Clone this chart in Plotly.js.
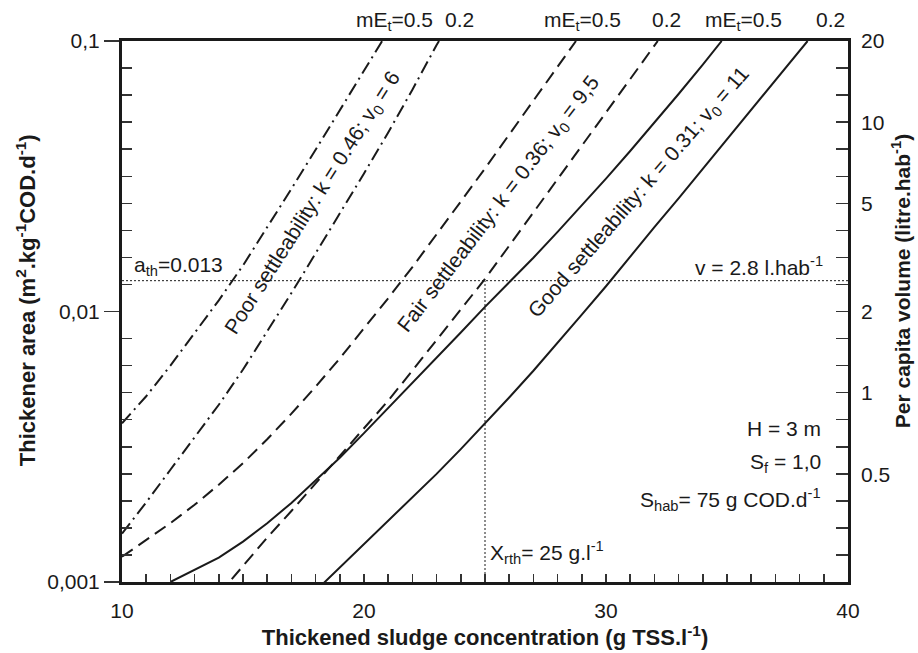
<!DOCTYPE html>
<html><head><meta charset="utf-8">
<script src="https://cdn.plot.ly/plotly-3.0.1.min.js"></script>
<style>html,body{margin:0;padding:0;background:#fff}#chart{width:918px;height:653px}</style>
</head><body><div id="chart"></div>
<script>
// ---- data ----
// Thickened sludge concentration (g TSS/l) and thickener area (m2.kg-1 COD.d-1)
const poor05X = [10,11,12,13,14,15,16,17,18,19,20,20.75];
const poor05A = [0.00386,0.00486,0.00631,0.00832,0.0110,0.0148,0.0204,0.0284,0.0396,0.0555,0.0776,0.1];
const poor02X = [10,11,12,13,14,15,16,17,18,19,20,21,22,23,23.1];
const poor02A = [0.00151,0.00197,0.00260,0.00342,0.00452,0.00610,0.00841,0.0117,0.0164,0.0230,0.0324,0.0459,0.0661,0.0966,0.1];
const fair05X = [10,11,12,13,14,15,16,17,18,19,20,21,22,23,24,25,26,27,28,28.76];
const fair05A = [0.00124,0.00143,0.00165,0.00193,0.00229,0.00275,0.00337,0.00419,0.00527,0.00671,0.00863,0.0112,0.0146,0.0192,0.0255,0.0338,0.0450,0.0600,0.0802,0.1];
const fair02X = [14,15,16,17,18,19,20,21,22,23,24,25,26,27,28,29,30,31,32,32.14];
const fair02A = [0.00090,0.00115,0.00146,0.00183,0.00231,0.00292,0.00368,0.00468,0.00605,0.00785,0.0102,0.0132,0.0175,0.0232,0.0309,0.0410,0.0545,0.0723,0.0962,0.1];
const good05X = [12,13,14,15,16,17,18,19,20,21,22,23,24,25,26,27,28,29,30,31,32,33,34,34.78];
const good05A = [0.00100,0.00111,0.00123,0.00141,0.00165,0.00196,0.00237,0.00288,0.00355,0.00439,0.00543,0.00673,0.00836,0.0104,0.0128,0.0158,0.0197,0.0247,0.0310,0.0392,0.0498,0.0637,0.0818,0.1];
const good02X = [18,19,20,21,22,23,24,25,26,27,28,29,30,31,32,33,34,35,36,37,38,38.33];
const good02A = [0.000927,0.00113,0.00138,0.00168,0.00205,0.00251,0.00310,0.00385,0.00481,0.00604,0.00764,0.00973,0.0124,0.0160,0.0205,0.0262,0.0337,0.0434,0.0557,0.0716,0.0920,0.1];

const aTh = 0.013;          // design thickener area
const xRth = 25;            // design thickened concentration
const xRange = [10, 40];
const aRange = [0.001, 0.1];
const vRange = [0.2, 20];   // per capita volume, litre/hab

const xTickVals = [10, 20, 30, 40];
const aTickVals = [0.001, 0.01, 0.1];
const aTickText = ['0,001', '0,01', '0,1'];
const vTickVals = [0.5, 1, 2, 5, 10, 20];
const vTickText = ['0.5', '1', '2', '5', '10', '20'];

// ---- styling ----
const INK = '#1a1a1a';
const TICK = '#333';
const FONT = 'Liberation Sans, Arial, Helvetica, sans-serif';

function curve(x, y, dash) {
  return {x: x, y: y, mode: 'lines', type: 'scatter', hoverinfo: 'skip',
          line: {color: INK, width: 2, dash: dash}, showlegend: false};
}
const DASHDOT = '13px,5px,2px,5px';
const DASH = '13px,7px';
const DOT = '2px,2px';

const traces = [
  curve(poor05X, poor05A, DASHDOT),
  curve(poor02X, poor02A, DASHDOT),
  curve(fair05X, fair05A, DASH),
  curve(fair02X, fair02A, DASH),
  curve(good05X, good05A, 'solid'),
  curve(good02X, good02A, 'solid'),
  {x: xRange, y: [aTh, aTh], mode: 'lines', type: 'scatter', hoverinfo: 'skip', showlegend: false,
   line: {color: INK, width: 1, dash: DOT}},
  {x: [xRth, xRth], y: [aRange[0], aTh], mode: 'lines', type: 'scatter', hoverinfo: 'skip', showlegend: false,
   line: {color: INK, width: 1, dash: DOT}},
  // carriers for the overlay axes
  {x: [null], y: [null], yaxis: 'y2', mode: 'lines', type: 'scatter', hoverinfo: 'skip', showlegend: false},
  {x: [null], y: [null], yaxis: 'y3', mode: 'lines', type: 'scatter', hoverinfo: 'skip', showlegend: false},
  {x: [null], y: [null], yaxis: 'y4', mode: 'lines', type: 'scatter', hoverinfo: 'skip', showlegend: false}
];

// 0.1-decade tick positions (in log10 units)
const leftMinor = [], rightMinor = [];
for (let i = 0; i <= 20; i++) {
  const v = -3 + i * 0.1;
  rightMinor.push(+v.toFixed(2));
  if (i % 10 !== 0) leftMinor.push(+v.toFixed(2));
}

const L = Math.log10;
const txt = {showarrow: false, font: {family: FONT, size: 21, color: INK}};
function ann(o) { return Object.assign({}, txt, o); }

const annotations = [
  ann({x: 17.91, y: L(0.0251), xref: 'x', yref: 'y', textangle: -57.5, xanchor: 'center', yanchor: 'middle',
       text: 'Poor settleability: k = 0.46; v<sub>0</sub> = 6'}),
  ann({x: 25.56, y: L(0.0248), xref: 'x', yref: 'y', textangle: -52.5, xanchor: 'center', yanchor: 'middle',
       text: 'Fair settleability: k = 0.36; v<sub>0</sub> = 9,5'}),
  ann({x: 31.36, y: L(0.0275), xref: 'x', yref: 'y', textangle: -49, xanchor: 'center', yanchor: 'middle',
       text: 'Good settleability: k = 0.31; v<sub>0</sub> = 11'}),
  ann({x: 10.41, y: L(aTh), xref: 'x', yref: 'y', xanchor: 'left', yanchor: 'bottom',
       text: 'a<sub>th</sub>=0.013'}),
  ann({x: 39.05, y: L(aTh), xref: 'x', yref: 'y', xanchor: 'right', yanchor: 'bottom',
       text: 'v = 2.8 l.hab<sup>-1</sup>'}),
  ann({x: 25.12, y: L(0.00129), xref: 'x', yref: 'y', xanchor: 'left', yanchor: 'middle',
       text: 'X<sub>rth</sub>= 25 g.l<sup>-1</sup>'}),
  ann({x: 38.97, y: L(0.00368), xref: 'x', yref: 'y', xanchor: 'right', yanchor: 'middle',
       text: 'H = 3 m'}),
  ann({x: 38.97, y: L(0.00275), xref: 'x', yref: 'y', xanchor: 'right', yanchor: 'middle',
       text: 'S<sub>f</sub> = 1,0'}),
  ann({x: 38.97, y: L(0.00201), xref: 'x', yref: 'y', xanchor: 'right', yanchor: 'middle',
       text: 'S<sub>hab</sub>= 75 g COD.d<sup>-1</sup>'}),
  // mE_t labels above the frame
  ann({x: 21.24, y: 1, xref: 'x', yref: 'paper', xanchor: 'center', yanchor: 'middle', yshift: 20, text: 'mE<sub>t</sub>=0.5'}),
  ann({x: 23.93, y: 1, xref: 'x', yref: 'paper', xanchor: 'center', yanchor: 'middle', yshift: 22, text: '0.2'}),
  ann({x: 29.03, y: 1, xref: 'x', yref: 'paper', xanchor: 'center', yanchor: 'middle', yshift: 20, text: 'mE<sub>t</sub>=0.5'}),
  ann({x: 32.50, y: 1, xref: 'x', yref: 'paper', xanchor: 'center', yanchor: 'middle', yshift: 22, text: '0.2'}),
  ann({x: 35.68, y: 1, xref: 'x', yref: 'paper', xanchor: 'center', yanchor: 'middle', yshift: 20, text: 'mE<sub>t</sub>=0.5'}),
  ann({x: 39.26, y: 1, xref: 'x', yref: 'paper', xanchor: 'center', yanchor: 'middle', yshift: 22, text: '0.2'}),
  // axis titles (vertical)
  ann({x: -0.1322, y: 0.521, xref: 'paper', yref: 'paper', textangle: -90, xanchor: 'center', yanchor: 'middle',
       font: {family: FONT, size: 22, color: INK},
       text: '<b>Thickener area (m<sup>2</sup>.kg<sup>-1</sup>COD.d<sup>-1</sup>)</b>'}),
  ann({x: 1.0730, y: 0.556, xref: 'paper', yref: 'paper', textangle: -90, xanchor: 'center', yanchor: 'middle',
       font: {family: FONT, size: 21, color: INK},
       text: '<b>Per capita volume (litre.hab<sup>-1</sup>)</b>'})
];

const layout = {
  width: 918, height: 653,
  margin: {l: 122, r: 70, t: 41, b: 71},
  paper_bgcolor: '#fff', plot_bgcolor: '#fff',
  font: {family: FONT, size: 21, color: INK},
  showlegend: false,
  xaxis: {
    range: xRange, tickmode: 'array', tickvals: xTickVals,
    ticks: 'inside', ticklen: 8, tickwidth: 1.5, tickcolor: TICK,
    minor: {dtick: 1, tick0: 10, ticks: 'inside', ticklen: 8, tickwidth: 1.5, tickcolor: TICK, showgrid: false},
    showline: true, mirror: true, linewidth: 3, linecolor: INK,
    showgrid: false, zeroline: false, ticklabelstandoff: 8,
    title: {text: '<b>Thickened sludge concentration (g TSS.l<sup>-1</sup>)</b>', standoff: 6,
            font: {family: FONT, size: 22, color: INK}}
  },
  yaxis: {
    type: 'log', range: [L(aRange[0]), L(aRange[1])],
    tickmode: 'array', tickvals: aTickVals, ticktext: aTickText,
    ticks: 'outside', ticklen: 15, tickwidth: 1.5, tickcolor: TICK,
    showline: true, mirror: true, linewidth: 3, linecolor: INK,
    showgrid: false, zeroline: false
  },
  yaxis2: {
    type: 'log', overlaying: 'y', side: 'right', anchor: 'x',
    range: [L(vRange[0]), L(vRange[1])],
    tickmode: 'array', tickvals: vTickVals, ticktext: vTickText,
    ticks: '', showline: false, showgrid: false, zeroline: false, ticklabelstandoff: 12
  },
  yaxis3: {
    overlaying: 'y', side: 'left', anchor: 'x', range: [-3, -1],
    tickmode: 'array', tickvals: leftMinor, showticklabels: false,
    ticks: 'inside', ticklen: 10, tickwidth: 1.5, tickcolor: TICK,
    showline: false, showgrid: false, zeroline: false
  },
  yaxis4: {
    overlaying: 'y', side: 'right', anchor: 'x', range: [-3, -1],
    tickmode: 'array', tickvals: rightMinor, showticklabels: false,
    ticks: 'inside', ticklen: 12, tickwidth: 1.5, tickcolor: TICK,
    showline: false, showgrid: false, zeroline: false
  },
  annotations: annotations
};

Plotly.newPlot('chart', traces, layout, {staticPlot: true, displayModeBar: false});
</script>
</body></html>
